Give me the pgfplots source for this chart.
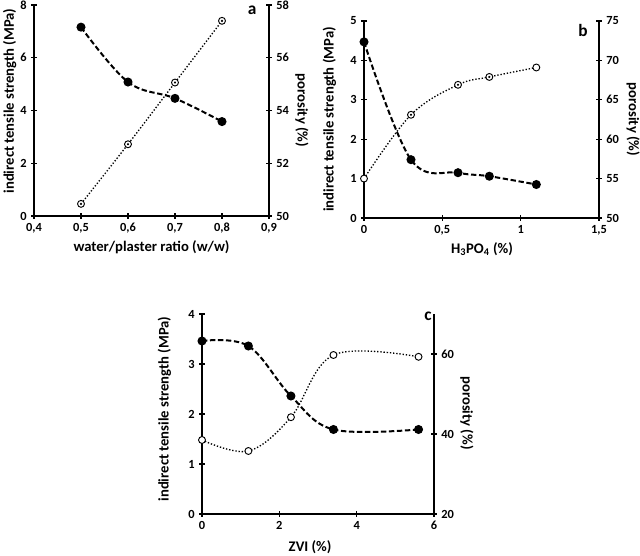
\documentclass[border=0pt]{standalone}
\usepackage{pgfplots}
\pgfplotsset{compat=1.18}
\usepackage{fontspec}
\setmainfont{Carlito}
\newcommand\lab{\fontsize{11}{12}\selectfont\bfseries}
\begin{document}
\bfseries
\begin{tikzpicture}[font=\bfseries]
\path[use as bounding box] (0,0) rectangle (480pt,417pt);
\pgfplotsset{
 base/.style={scale only axis, anchor=south west, tick align=center, major tick length=4pt,
   axis line style={-, line width=1.1pt}, every tick/.style={black, line width=0.9pt},
   every tick label/.append style={font=\fontsize{9.3}{10}\selectfont\bfseries},
   /pgf/number format/assume math mode=true,
   clip=false},
 leftax/.style={base, axis x line*=bottom, axis y line*=left},
 rightax/.style={base, axis x line=none, axis y line*=right},
 str/.style={black, line width=1.5pt, dash pattern=on 4pt off 2pt, smooth, tension=0.6, mark=*, mark size=2.6pt, mark options={solid}},
 por/.style={black, line width=1pt, dash pattern=on 1pt off 1.4pt, smooth, tension=0.6, mark=*, mark size=2.6pt, mark options={solid, fill=white, line width=0.7pt}},
 dot/.style={only marks, mark=*, mark size=0.6pt, black},
}
% ---------------- panel a ----------------
\begin{axis}[leftax, at={(25.5pt,255pt)}, width=176.25pt, height=158.25pt,
  xmin=0.4, xmax=0.9, ymin=0, ymax=8,
  xtick={0.4,0.5,0.6,0.7,0.8,0.9}, xticklabels={{0,4},{0,5},{0,6},{0,7},{0,8},{0,9}},
  ytick={0,2,4,6,8},
  xlabel={water/plaster ratio (w/w)}, ylabel={indirect tensile strength (MPa)},
  every axis x label/.style={at={(axis description cs:0.5,-0.147)}, anchor=center, font=\lab},
  every axis y label/.style={at={(axis description cs:-0.104,0.545)}, rotate=90, anchor=center, font=\lab}]
\addplot[str] coordinates {(0.5,7.16) (0.6,5.08) (0.7,4.46) (0.8,3.58)};
\node[font=\fontsize{13}{14}\selectfont\bfseries] at (axis description cs:0.928,0.976) {a};
\end{axis}
\begin{axis}[rightax, at={(25.5pt,255pt)}, width=176.25pt, height=158.25pt,
  xmin=0.4, xmax=0.9, ymin=50, ymax=58, ytick={50,52,54,56,58},
  ylabel={porosity (\%)},
  every axis y label/.style={at={(axis description cs:1.14,0.5)}, rotate=-90, anchor=center, font=\lab}]
\addplot[por] coordinates {(0.5,50.46) (0.6,52.72) (0.7,55.06) (0.8,57.4)};
\addplot[dot] coordinates {(0.5,50.46) (0.6,52.72) (0.7,55.06) (0.8,57.4)};
\end{axis}
% ---------------- panel b ----------------
\begin{axis}[leftax, at={(273pt,253.5pt)}, width=176.25pt, height=147.75pt,
  xmin=0, xmax=1.5, ymin=0, ymax=5,
  xtick={0,0.5,1,1.5}, xticklabels={0,{0,5},1,{1,5}},
  ytick={0,1,2,3,4,5},
  xlabel={H\textsubscript{3}PO\textsubscript{4} (\%)}, ylabel={indirect tensile strength (MPa)},
  every axis x label/.style={at={(axis description cs:0.502,-0.157)}, anchor=center, font=\lab},
  every axis y label/.style={at={(axis description cs:-0.147,0.5)}, rotate=90, anchor=center, font=\lab}]
\addplot[str] coordinates {(0,4.47) (0.3,1.48) (0.6,1.15) (0.8,1.06) (1.1,0.85)};
\node[font=\fontsize{13}{14}\selectfont\bfseries] at (axis description cs:0.932,0.954) {b};
\end{axis}
\begin{axis}[rightax, at={(273pt,253.5pt)}, width=176.25pt, height=147.75pt,
  xmin=0, xmax=1.5, ymin=50, ymax=75, ytick={50,55,60,65,70,75},
  ylabel={porosity (\%)},
  every axis y label/.style={at={(axis description cs:1.145,0.5)}, rotate=-90, anchor=center, font=\lab}]
\addplot[por] coordinates {(0,55.0) (0.3,63.1) (0.6,66.9) (0.8,67.9) (1.1,69.1)};
\addplot[dot] coordinates {(0.3,63.1) (0.6,66.9) (0.8,67.9)};
\end{axis}
% ---------------- panel c ----------------
\begin{axis}[leftax, at={(151.5pt,31.5pt)}, width=174pt, height=150pt,
  xmin=0, xmax=6, ymin=0, ymax=4,
  xtick={0,2,4,6}, ytick={0,1,2,3,4},
  xlabel={ZVI (\%)}, ylabel={indirect tensile strength (MPa)},
  every axis x label/.style={at={(axis description cs:0.466,-0.165)}, anchor=center, font=\lab},
  every axis y label/.style={at={(axis description cs:-0.162,0.525)}, rotate=90, anchor=center, font=\lab}]
\addplot[str] coordinates {(0,3.46) (1.2,3.36) (2.3,2.36) (3.4,1.69) (5.6,1.69)};
\node[font=\fontsize{13}{14}\selectfont\bfseries] at (axis description cs:0.974,0.99) {c};
\end{axis}
\begin{axis}[rightax, at={(151.5pt,31.5pt)}, width=174pt, height=150pt,
  xmin=0, xmax=6, ymin=20, ymax=70, ytick={20,40,60},
  ylabel={porosity (\%)},
  every axis y label/.style={at={(axis description cs:1.142,0.505)}, rotate=-90, anchor=center, font=\lab}]
\addplot[por] coordinates {(0,38.5) (1.2,35.75) (2.3,44.2) (3.4,59.75) (5.6,59.3)};
\end{axis}
\end{tikzpicture}
\end{document}
